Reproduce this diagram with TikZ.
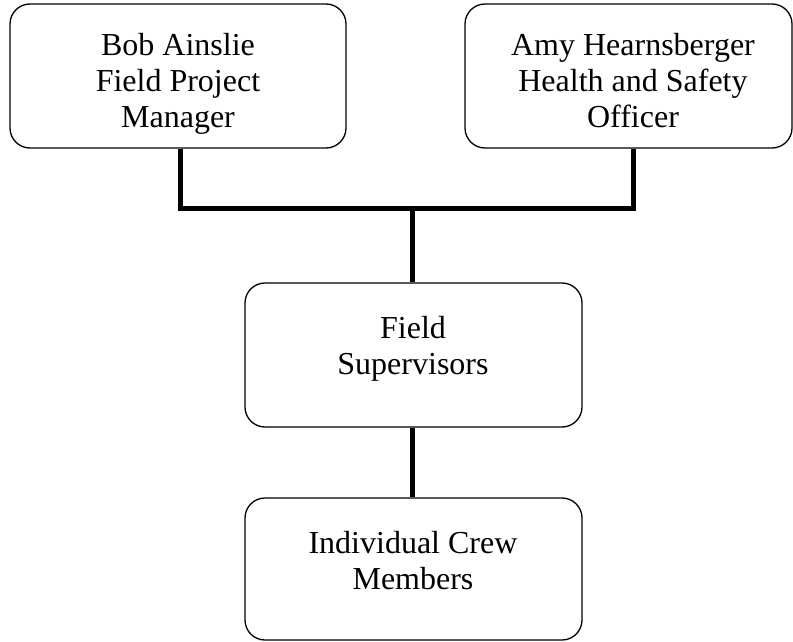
\documentclass[tikz,border=0pt]{standalone}
\usepackage{fontspec}
\setmainfont{Liberation Serif}
\begin{document}
\begin{tikzpicture}[x=1pt,y=-1pt,
  box/.style={draw=black,line width=1.3pt,rounded corners=20pt,inner sep=0pt},
  lbl/.style={font=\fontsize{32}{36}\selectfont,align=center,inner sep=0pt,anchor=north},
  conn/.style={draw=black,line width=5pt,line join=miter}]
\useasboundingbox (0,0) rectangle (793,642);
\node[box,minimum width=336pt,minimum height=144pt] (a) at (178,76) {};
\node[box,minimum width=327pt,minimum height=144pt] (b) at (628.5,76) {};
\node[box,minimum width=337pt,minimum height=144pt] (c) at (413.5,355) {};
\node[box,minimum width=337pt,minimum height=142pt] (d) at (413.5,569) {};
\node[lbl] (ta) at (178,33) {Bob Ainslie\\Field Project\\Manager};
\node[lbl] (tb) at (633,33) {Amy Hearnsberger\\Health and Safety\\Officer};
\node[lbl] (tc) at (413,316) {Field\\Supervisors};
\node[lbl] (td) at (413,531) {Individual Crew\\Members};
\coordinate (j) at (412,208);
\draw[conn] ([xshift=2pt]a.south) |- (j) -| ([xshift=4.5pt]b.south);
\draw[conn] (j) -- ([xshift=-1.5pt]c.north);
\draw[conn] ([xshift=-1.5pt]c.south) -- ([xshift=-1.5pt]d.north);
\end{tikzpicture}
\end{document}
